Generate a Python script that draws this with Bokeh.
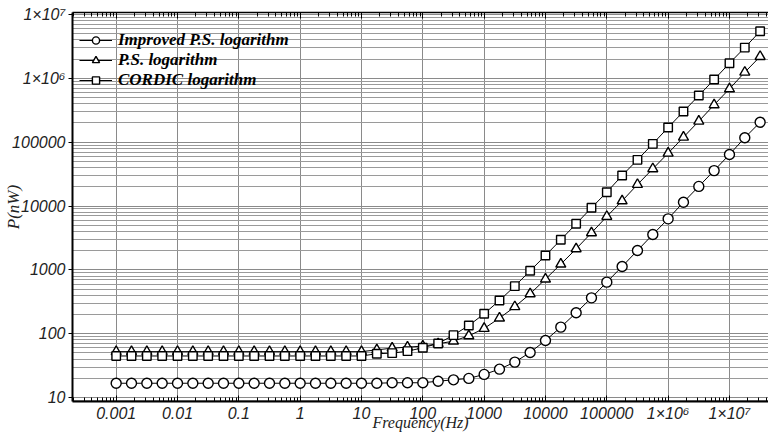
import math
from bokeh.plotting import figure
from bokeh.models import LogAxis, FixedTicker, CustomJSTickFormatter, Range1d, Legend, LegendItem
from bokeh.embed import file_html
from bokeh.resources import INLINE

# ---------------- data ----------------
freq_hz = [1e-3, 1.778e-3, 3.162e-3, 5.623e-3,
           1e-2, 1.778e-2, 3.162e-2, 5.623e-2,
           0.1, 0.1778, 0.3162, 0.5623,
           1, 1.778, 3.162, 5.623,
           10, 17.78, 31.62, 56.23,
           100, 177.8, 316.2, 562.3,
           1000, 1778, 3162, 5623,
           1e4, 1.778e4, 3.162e4, 5.623e4,
           1e5, 1.778e5, 3.162e5, 5.623e5,
           1e6, 1.778e6, 3.162e6, 5.623e6,
           1e7, 1.778e7, 3.162e7]

improved_ps = [16.8, 16.8, 16.8, 16.8, 16.8, 16.8, 16.8, 16.8, 16.8,
               16.8, 16.8, 16.8, 16.8, 16.8, 16.8, 16.8, 16.8, 16.8,
               17.1, 17.1, 17.1, 18.1, 19.0, 20.0, 23.1, 27.9, 36.0,
               51.0, 78.6, 126.9, 213, 365, 643, 1130, 2012, 3579,
               6297, 11470, 20270, 35820, 64040, 117200, 204700]

ps_log = [52.5, 52.5, 52.5, 52.5, 52.5, 52.5, 52.5, 52.5, 52.5,
          52.5, 52.5, 52.5, 52.5, 52.5, 52.5, 52.5, 52.5, 56.0,
          59.5, 61.7, 64.1, 69.7, 76.6, 92.9, 121.1, 175.7, 264.5,
          421.9, 716.7, 1229, 2137, 3802, 6845, 12020, 21690, 38240,
          67100, 119400, 212500, 383500, 682300, 1240000, 2187000]

cordic_log = [44.9, 44.9, 44.9, 44.9, 44.9, 44.9, 44.9, 44.9, 44.9,
              44.9, 44.9, 44.9, 44.9, 44.9, 44.9, 44.9, 44.9, 48.7,
              49.7, 53.4, 60.3, 70.5, 95.1, 134.8, 205.3, 332.0, 556.3,
              967.4, 1682, 2959, 5265, 9372, 16440, 30020, 52830, 94010,
              169300, 301200, 535900, 953600, 1717000, 3021000, 5433000]

series_names = ["Improved P.S. logarithm", "P.S. logarithm", "CORDIC logarithm"]

x_tick_values = [1e-3, 1e-2, 1e-1, 1, 10, 100, 1e3, 1e4, 1e5, 1e6, 1e7]
x_tick_labels = ["0.001", "0.01", "0.1", "1", "10", "100", "1000", "10000",
                 "100000", "1×10⁶", "1×10⁷"]
y_tick_values = [10, 100, 1e3, 1e4, 1e5, 1e6, 1e7]
y_tick_labels = ["10", "100", "1000", "10000", "100000", "1×10⁶", "1×10⁷"]

x_title = "Frequency(Hz)"
y_title = "P(nW)"

# ---------------- figure ----------------
p = figure(width=768, height=436, x_axis_type="log", y_axis_type="log",
           x_range=Range1d(1.94e-4, 4.33e7), y_range=Range1d(8.7, 1.07e7),
           output_backend="svg", toolbar_location=None,
           min_border_left=72, min_border_right=0, min_border_top=12,
           min_border_bottom=35)
p.outline_line_color = None
p.background_fill_color = "white"

x_minor = [m * 10.0 ** k for k in range(-4, 8) for m in range(2, 10)]
y_minor = [m * 10.0 ** k for k in range(0, 7) for m in range(2, 10)]
xt = FixedTicker(ticks=x_tick_values, minor_ticks=x_minor)
yt = FixedTicker(ticks=y_tick_values, minor_ticks=y_minor)

fmt_code = """
let best = 0, bd = Infinity;
for (let i = 0; i < vals.length; i++) {
  const d = Math.abs(Math.log10(vals[i]) - Math.log10(tick));
  if (d < bd) { bd = d; best = i; }
}
return labs[best];
"""
xfmt = CustomJSTickFormatter(args=dict(vals=x_tick_values, labs=x_tick_labels), code=fmt_code)
yfmt = CustomJSTickFormatter(args=dict(vals=y_tick_values, labs=y_tick_labels), code=fmt_code)

xa = p.xaxis[0]
xa.ticker = xt
xa.formatter = xfmt
xa.major_tick_in = 6
xa.major_tick_out = 0
xa.minor_tick_in = 4
xa.minor_tick_out = 0
xa.axis_line_width = 2
xa.axis_line_color = "black"
xa.major_label_standoff = 3
xa.major_label_text_font = "Liberation Sans"
xa.major_label_text_font_style = "italic"
xa.major_label_text_font_size = "16px"
xa.major_label_text_color = "#222222"
xa.axis_label = x_title
xa.axis_label_standoff = -11
xa.axis_label_text_font = "Liberation Serif"
xa.axis_label_text_font_style = "italic"
xa.axis_label_text_font_size = "16px"
xa.axis_label_text_color = "#222222"

ya = p.yaxis[0]
ya.ticker = yt
ya.formatter = yfmt
ya.major_tick_in = 0
ya.major_tick_out = 4
ya.minor_tick_in = 0
ya.minor_tick_out = 0
ya.axis_line_width = 2
ya.axis_line_color = "black"
ya.major_label_standoff = 3
ya.major_label_text_font = "Liberation Sans"
ya.major_label_text_font_style = "italic"
ya.major_label_text_font_size = "16px"
ya.major_label_text_color = "#222222"
ya.axis_label = y_title
ya.axis_label_standoff = -14
ya.axis_label_text_font = "Liberation Serif"
ya.axis_label_text_font_style = "italic"
ya.axis_label_text_font_size = "17px"
ya.axis_label_text_color = "#222222"

top = LogAxis(ticker=xt, formatter=CustomJSTickFormatter(code='return "";'),
              major_tick_in=6, major_tick_out=0,
              minor_tick_in=4, minor_tick_out=0, axis_line_width=1.5,
              major_label_text_font_size="1px", major_label_standoff=0)
p.add_layout(top, "above")

p.xgrid.ticker = xt
p.xgrid.grid_line_color = "#8a8a8a"
p.xgrid.grid_line_width = 1
p.ygrid.ticker = yt
p.ygrid.grid_line_color = "#8a8a8a"
p.ygrid.grid_line_width = 1
p.ygrid.minor_grid_line_color = "#9a9a9a"
p.ygrid.minor_grid_line_width = 1

# ---------------- series ----------------
markers = ["circle", "triangle", "square"]
sizes = [10, 10, 8.5]
items = []
for name, vals, mk, sz in zip(series_names, [improved_ps, ps_log, cordic_log], markers, sizes):
    ln = p.line(freq_hz, vals, line_color="black", line_width=1)
    sc = p.scatter(freq_hz, vals, marker=mk, size=sz, fill_color="white",
                   line_color="black", line_width=1.4)
    items.append(LegendItem(label=name, renderers=[ln, sc]))

legend = Legend(items=items, location=(7, 311), padding=0, margin=0, spacing=0,
                label_height=18, glyph_height=18, glyph_width=33, label_standoff=6,
                background_fill_alpha=0, border_line_color=None,
                label_text_font="Liberation Serif", label_text_font_style="bold italic",
                label_text_font_size="17px", label_text_color="black")
p.add_layout(legend, "center")

open("out.html", "w").write(file_html(p, INLINE))
